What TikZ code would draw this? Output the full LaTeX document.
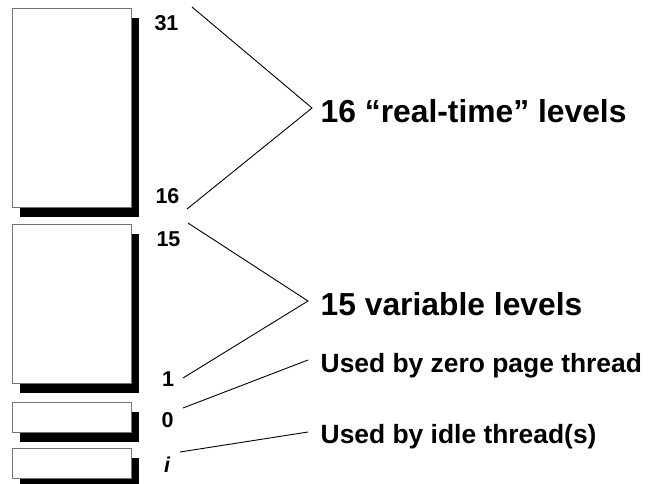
\documentclass[tikz,border=0pt]{standalone}
\usepackage{fontspec}
\setmainfont{Liberation Sans}
\usetikzlibrary{shadows}
\begin{document}
\begin{tikzpicture}[x=1pt,y=-1pt,
  levelbox/.style={draw=black!55, line width=0.8pt, fill=white,
    minimum width=119pt, inner sep=0pt, outer sep=0pt,
    drop shadow={shadow xshift=8pt, shadow yshift=-9.5pt, fill=black, opacity=1}},
  levelnum/.style={font=\bfseries\fontsize{21.5}{21.5}\selectfont, anchor=base, inner sep=0pt},
  bigtext/.style={font=\bfseries\fontsize{31.8}{31.8}\selectfont, anchor=base west, inner sep=0pt},
  smalltext/.style={font=\bfseries\fontsize{26.4}{26.4}\selectfont, anchor=base west, inner sep=0pt},
  brace/.style={line width=0.9pt, line join=miter}]
\useasboundingbox (0,0) rectangle (648,483);

% priority level blocks
\node[levelbox, minimum height=199pt] (rt)   at (71.5,107.5) {};
\node[levelbox, minimum height=159pt] (var)  at (71.5,303.8) {};
\node[levelbox, minimum height=30pt]  (zero) at (71.5,417.7) {};
\node[levelbox, minimum height=30pt]  (idle) at (71.5,463.3) {};

% level numbers
\node[levelnum] (n31) at (166.5,30) {31};
\node[levelnum] (n16) at (167.5,203) {16};
\node[levelnum] (n15) at (168.5,246) {15};
\node[levelnum] (n1)  at (168,386) {1};
\node[levelnum] (n0)  at (167.5,427) {0};
\node[levelnum] (ni)  at (167,472) {\itshape i};

% descriptions
\node[bigtext]   (trt)   at (320.5,122) {16 “real-time” levels};
\node[bigtext]   (tvar)  at (320.5,315) {15 variable levels};
\node[smalltext] (tzero) at (320.5,372) {Used by zero page thread};
\node[smalltext] (tidle) at (320.5,443) {Used by idle thread(s)};

% connector end points
\coordinate (rtA) at (192,7);
\coordinate (rtV) at (312,108);
\coordinate (rtB) at (187,209);
\coordinate (varA) at (188,223);
\coordinate (varV) at (308,301);
\coordinate (varB) at (183,378);
\coordinate (zA) at (183,408);
\coordinate (zB) at (308,360);
\coordinate (iA) at (180,452);
\coordinate (iB) at (308,432);

\draw[brace] (rtA) -- (rtV) -- (rtB);
\draw[brace] (varA) -- (varV) -- (varB);
\draw[brace] (zA) -- (zB);
\draw[brace] (iA) -- (iB);
\end{tikzpicture}
\end{document}
